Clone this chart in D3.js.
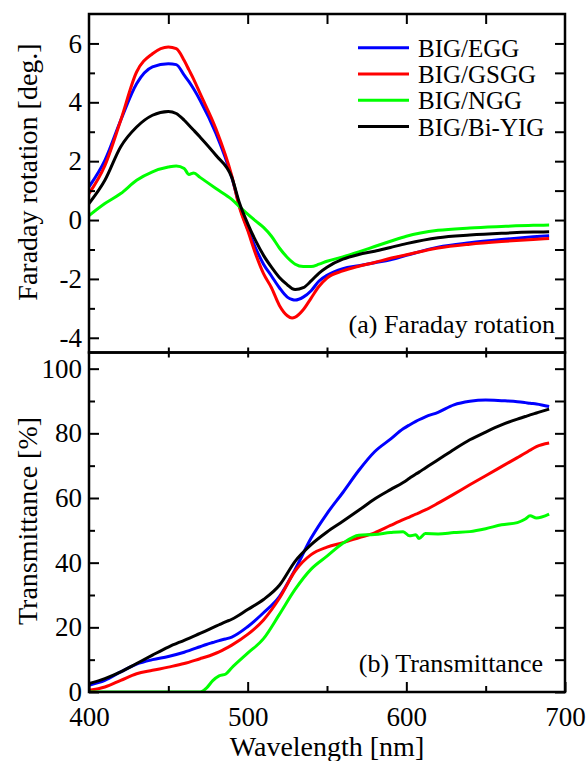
<!DOCTYPE html>
<html>
<head>
<meta charset="utf-8">
<script src="https://cdn.jsdelivr.net/npm/d3@7"></script>
<style>
  html, body { margin: 0; padding: 0; background: #fff; }
  svg text { font-family: 'Liberation Serif', 'Times New Roman', Times, serif; fill: #000; }
</style>
</head>
<body>
<script>
// ---------- DATA ----------
const seriesNames = ["BIG/EGG", "BIG/GSGG", "BIG/NGG", "BIG/Bi-YIG"];
const seriesColors = ["#0000ff", "#ff0000", "#00ff00", "#000000"];

// (a) Faraday rotation [deg.]
const frWavelength = [400,410,420,430,440,450,455,460,463,466,470,480,490,495,500,505,510,515,520,525,528,530,535,540,545,550,560,570,580,590,600,620,640,660,680,690];
const frEGG   = [1.13,2.03,3.39,4.63,5.20,5.31,5.28,4.92,4.70,4.45,4.07,2.94,1.45,0.45,-0.30,-0.95,-1.50,-1.90,-2.30,-2.62,-2.70,-2.72,-2.62,-2.40,-2.07,-1.88,-1.65,-1.55,-1.45,-1.35,-1.20,-0.92,-0.77,-0.66,-0.57,-0.53];
const frGSGG  = [0.90,1.85,3.39,5.03,5.65,5.88,5.82,5.42,5.10,4.78,4.30,3.10,1.50,0.40,-0.35,-1.15,-1.82,-2.30,-2.90,-3.25,-3.33,-3.30,-3.05,-2.65,-2.25,-1.97,-1.73,-1.57,-1.44,-1.30,-1.18,-0.95,-0.82,-0.73,-0.66,-0.63];
const frNGG   = [0.15,0.56,0.90,1.35,1.64,1.80,1.84,1.75,1.55,1.60,1.45,1.07,0.70,0.45,0.20,-0.03,-0.25,-0.55,-0.95,-1.27,-1.42,-1.50,-1.58,-1.58,-1.50,-1.40,-1.25,-1.08,-0.90,-0.72,-0.55,-0.35,-0.27,-0.22,-0.18,-0.17];
const frBiYIG = [0.56,1.35,2.49,3.16,3.56,3.69,3.62,3.39,3.22,3.05,2.82,2.20,1.45,0.55,-0.12,-0.70,-1.20,-1.60,-1.95,-2.20,-2.33,-2.36,-2.30,-2.07,-1.80,-1.60,-1.33,-1.17,-1.06,-0.93,-0.80,-0.60,-0.51,-0.45,-0.41,-0.40];

// (b) Transmittance [%]
const trWavelength = [400,410,420,430,440,450,460,470,474,478,482,486,490,500,510,520,530,540,550,560,570,580,590,598,602,606,608,612,620,630,640,650,660,670,675,678,682,690];
const trEGG   = [2.1,3.6,6.2,8.6,10.0,11.0,12.3,14.0,14.7,15.3,15.9,16.4,17.0,20.2,24.5,29.5,38.0,47.6,55.2,61.7,68.5,74.3,78.2,81.4,82.6,83.7,84.2,85.1,86.5,88.8,89.9,90.3,90.1,89.8,89.5,89.3,89.1,88.3];
const trGSGG  = [0.5,1.55,3.6,5.65,6.7,7.7,8.8,10.3,10.9,11.6,12.4,13.4,14.5,17.8,22.3,29.0,37.5,42.5,44.8,46.2,47.7,49.2,51.5,53.3,54.1,55.0,55.4,56.3,58.4,61.2,64.1,66.9,69.7,72.5,73.9,74.8,75.9,77.0];
const trNGG   = [0,0,0,0,0,0,0,0,1.2,3.5,5.0,5.5,7.5,12.0,16.5,24.0,31.8,38.0,42.0,46.0,48.5,48.7,49.3,49.6,48.3,48.6,47.5,49.0,48.9,49.3,49.6,50.5,51.7,52.4,53.5,54.5,53.8,55.0];
const trBiYIG = [2.6,4.15,6.2,8.8,11.4,13.9,16.0,18.1,19.0,19.9,20.8,21.7,22.5,25.5,28.6,33.0,40.5,45.6,49.5,52.8,56.2,59.7,62.6,64.8,66.1,67.4,68.0,69.3,71.8,75.0,78.0,80.4,82.6,84.4,85.2,85.7,86.3,87.5];

const xTicksMajor = [400, 500, 600, 700];
const xTicksMinor = [450, 550, 650];
const frTicksMajor = [-4, -2, 0, 2, 4, 6];
const frTicksMinor = [-3, -1, 1, 3, 5];
const trTicksMajor = [0, 20, 40, 60, 80, 100];
const trTicksMinor = [10, 30, 50, 70, 90];

// ---------- LAYOUT ----------
const W = 588, H = 761;
const L = 89, R = 565, T1 = 14, MID = 352.5, B2 = 692;
const FONT_TICK = 27, FONT_TITLE = 28, FONT_LEG = 25, FONT_PANEL = 26;
const FAMILY = "'Liberation Serif', 'Times New Roman', Times, serif";

const svg = d3.select("body").append("svg")
  .attr("width", W).attr("height", H)
  .style("display", "block");
svg.append("rect").attr("width", W).attr("height", H).attr("fill", "#fff");

const x = d3.scaleLinear().domain([400, 700]).range([L, R]);
const y1 = d3.scaleLinear().domain([-4.5, 7]).range([MID, T1]);
const y2 = d3.scaleLinear().domain([0, 105]).range([B2, MID]);

const defs = svg.append("defs");
defs.append("clipPath").attr("id", "clipA").append("rect")
  .attr("x", L).attr("y", T1).attr("width", R - L).attr("height", MID - T1);
defs.append("clipPath").attr("id", "clipB").append("rect")
  .attr("x", L).attr("y", MID).attr("width", R - L).attr("height", B2 - MID);

function drawLines(xs, ys, yScale, clip) {
  const g = svg.append("g").attr("clip-path", `url(#${clip})`);
  ys.forEach((vals, i) => {
    const pts = xs.map((w, j) => [w, vals[j]]);
    g.append("path")
      .attr("d", d3.line().x(d => x(d[0])).y(d => yScale(d[1])).curve(d3.curveMonotoneX)(pts))
      .attr("fill", "none")
      .attr("stroke", seriesColors[i])
      .attr("stroke-width", 3)
      .attr("stroke-linejoin", "round");
  });
}

drawLines(frWavelength, [frEGG, frGSGG, frNGG, frBiYIG], y1, "clipA");
drawLines(trWavelength, [trEGG, trGSGG, trNGG, trBiYIG], y2, "clipB");

// ---------- AXES ----------
const fmt = d => d < 0 ? "-" + Math.abs(d) : String(d);
function styleAxis(g) {
  g.attr("font-family", FAMILY).attr("font-size", FONT_TICK);
  g.select(".domain").remove();
  g.selectAll(".tick line").attr("stroke", "#000").attr("stroke-width", 2);
  g.selectAll(".tick text").attr("fill", "#000");
}

// panel (a)
svg.append("g").attr("transform", `translate(${L},0)`)
  .call(d3.axisLeft(y1).tickValues(frTicksMajor).tickSize(-10).tickPadding(7).tickFormat(fmt))
  .call(styleAxis);
svg.append("g").attr("transform", `translate(${L},0)`)
  .call(d3.axisLeft(y1).tickValues(frTicksMinor).tickSize(-6).tickFormat(""))
  .call(styleAxis);
svg.append("g").attr("transform", `translate(${R},0)`)
  .call(d3.axisRight(y1).tickValues(frTicksMajor.concat(frTicksMinor)).tickSize(-10).tickFormat(""))
  .call(styleAxis);
svg.append("g").attr("transform", `translate(0,${T1})`)
  .call(d3.axisTop(x).tickValues([450, 500, 550, 600, 650]).tickSize(-10).tickFormat(""))
  .call(styleAxis);
svg.append("g").attr("transform", `translate(0,${MID})`)
  .call(d3.axisBottom(x).tickValues([450, 500, 550, 600, 650]).tickSize(-5).tickFormat(""))
  .call(styleAxis);

// panel (b)
svg.append("g").attr("transform", `translate(0,${MID})`)
  .call(d3.axisTop(x).tickValues([450, 500, 550, 600, 650]).tickSize(-5).tickFormat(""))
  .call(styleAxis);
svg.append("g").attr("transform", `translate(${L},0)`)
  .call(d3.axisLeft(y2).tickValues(trTicksMajor).tickSize(-10).tickPadding(7).tickFormat(fmt))
  .call(styleAxis);
svg.append("g").attr("transform", `translate(${L},0)`)
  .call(d3.axisLeft(y2).tickValues(trTicksMinor).tickSize(-6).tickFormat(""))
  .call(styleAxis);
svg.append("g").attr("transform", `translate(${R},0)`)
  .call(d3.axisRight(y2).tickValues(trTicksMajor.concat(trTicksMinor)).tickSize(-10).tickFormat(""))
  .call(styleAxis);
svg.append("g").attr("transform", `translate(0,${B2})`)
  .call(d3.axisBottom(x).tickValues(xTicksMajor).tickSize(-10).tickPadding(15).tickFormat(d3.format("d")))
  .call(styleAxis);
svg.append("g").attr("transform", `translate(0,${B2})`)
  .call(d3.axisBottom(x).tickValues(xTicksMinor).tickSize(-6).tickFormat(""))
  .call(styleAxis);

// frames
[[T1, MID], [MID, B2]].forEach(([t, b]) => {
  svg.append("rect").attr("x", L).attr("y", t).attr("width", R - L).attr("height", b - t)
    .attr("fill", "none").attr("stroke", "#000").attr("stroke-width", 2.5);
});

// ---------- TITLES ----------
const txt = (sel, size) => sel.attr("font-family", FAMILY).attr("font-size", size);
txt(svg.append("text").attr("transform", "translate(37,172) rotate(-90)")
  .attr("text-anchor", "middle").text("Faraday rotation [deg.]"), FONT_TITLE);
txt(svg.append("text").attr("transform", "translate(37,521) rotate(-90)")
  .attr("text-anchor", "middle").text("Transmittance [%]"), FONT_TITLE);
txt(svg.append("text").attr("x", (L + R) / 2).attr("y", 756)
  .attr("text-anchor", "middle").text("Wavelength [nm]"), FONT_TITLE);

txt(svg.append("text").attr("x", 555).attr("y", 333)
  .attr("text-anchor", "end").text("(a) Faraday rotation"), FONT_PANEL);
txt(svg.append("text").attr("x", 543).attr("y", 672)
  .attr("text-anchor", "end").text("(b) Transmittance"), FONT_PANEL);

// ---------- LEGEND ----------
const leg = svg.append("g");
seriesNames.forEach((name, i) => {
  const yy = 47.7 + i * 26.3;
  leg.append("line").attr("x1", 358).attr("x2", 409).attr("y1", yy).attr("y2", yy)
    .attr("stroke", seriesColors[i]).attr("stroke-width", 3);
  txt(leg.append("text").attr("x", 418).attr("y", yy + 9).text(name), FONT_LEG);
});
</script>
</body>
</html>
